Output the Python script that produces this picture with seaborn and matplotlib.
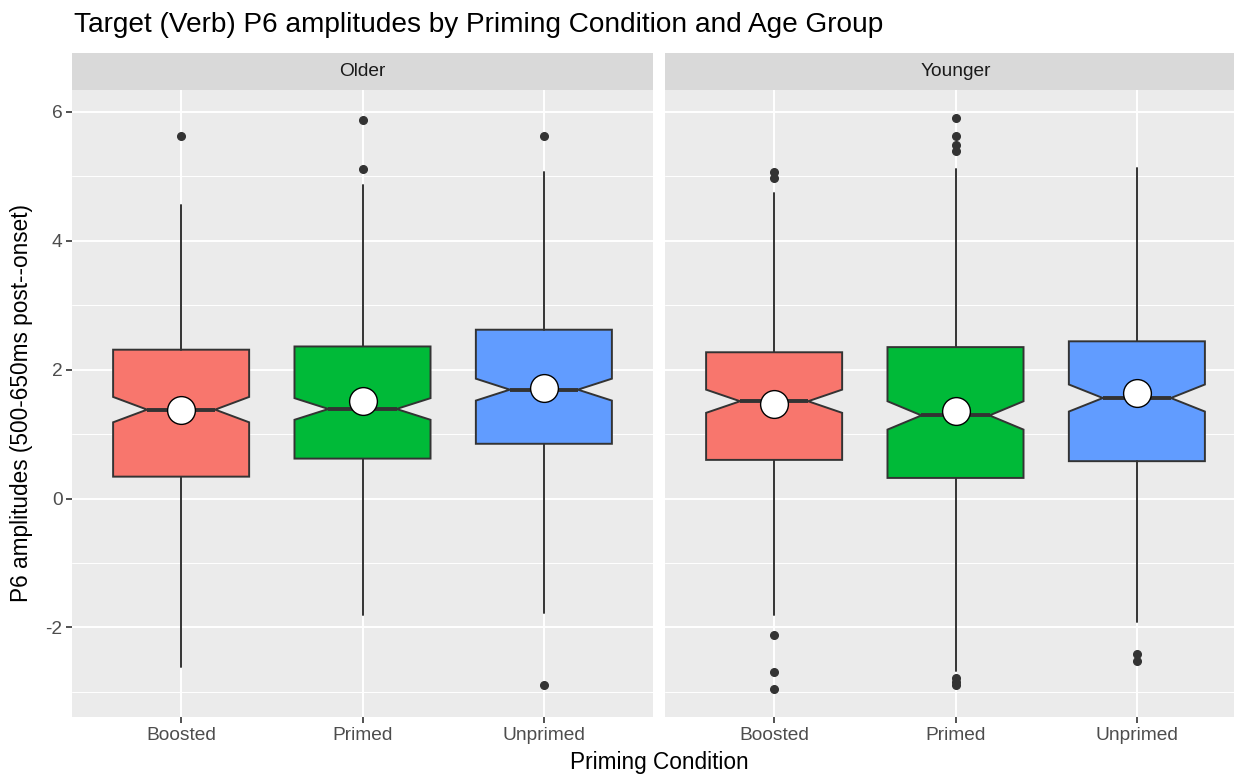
import matplotlib
matplotlib.use("Agg")
import matplotlib.pyplot as plt
from matplotlib.patches import Rectangle
from matplotlib.ticker import FixedLocator
import numpy as np
import pandas as pd
import seaborn as sns

# Box summaries for the P6 window, one entry per (age group, priming condition)
groups = ["Older", "Older", "Older", "Younger", "Younger", "Younger"]
conditions = ["Boosted", "Primed", "Unprimed", "Boosted", "Primed", "Unprimed"]
lower_hinge = [0.34, 0.62, 0.85, 0.60, 0.32, 0.58]
medians = [1.38, 1.39, 1.69, 1.51, 1.29, 1.56]
upper_hinge = [2.31, 2.36, 2.62, 2.27, 2.35, 2.44]
whisker_low = [-2.62, -1.80, -1.77, -1.81, -2.68, -1.92]
whisker_high = [4.56, 4.86, 5.06, 4.74, 5.11, 5.13]
notch_halfwidth = [0.197, 0.168, 0.170, 0.180, 0.220, 0.210]
means = [1.38, 1.52, 1.71, 1.46, 1.36, 1.64]
outliers = [
    [5.63],
    [5.88, 5.11],
    [5.62, -2.90],
    [5.07, 4.97, -2.11, -2.69, -2.95],
    [5.90, 5.63, 5.48, 5.40, -2.78, -2.84, -2.90],
    [-2.42, -2.52],
]

condition_order = ["Boosted", "Primed", "Unprimed"]
group_order = ["Older", "Younger"]
palette = {"Boosted": "#F8766D", "Primed": "#00BA38", "Unprimed": "#619CFF"}

summary = pd.DataFrame({
    "group": groups,
    "condition": conditions,
    "q1": lower_hinge,
    "med": medians,
    "q3": upper_hinge,
    "whislo": whisker_low,
    "whishi": whisker_high,
    "notch": notch_halfwidth,
    "mean": means,
    "fliers": outliers,
})

sns.set_theme(style="darkgrid")
plt.rcParams["font.family"] = ["Liberation Sans", "DejaVu Sans"]
plt.rcParams["axes.unicode_minus"] = False

DARK = "#333333"
PANEL = "#EBEBEB"


def draw_boxes(data, **kws):
    ax = plt.gca()
    data = data.set_index("condition").loc[condition_order].reset_index()
    stats = []
    for _, r in data.iterrows():
        stats.append(dict(
            med=r["med"], q1=r["q1"], q3=r["q3"],
            whislo=r["whislo"], whishi=r["whishi"],
            cilo=r["med"] - r["notch"], cihi=r["med"] + r["notch"],
            fliers=np.array(r["fliers"]), mean=r["mean"],
        ))
    pos = np.arange(len(condition_order))
    bp = ax.bxp(
        stats, positions=pos, widths=0.75, shownotches=True,
        showcaps=False, showmeans=False, patch_artist=True,
        boxprops=dict(edgecolor=DARK, linewidth=1.4),
        medianprops=dict(color=DARK, linewidth=2.8, solid_capstyle="butt"),
        whiskerprops=dict(color=DARK, linewidth=1.4),
        flierprops=dict(marker="o", markerfacecolor=DARK, markeredgecolor=DARK,
                        markersize=5.5, linestyle="none"),
        zorder=3,
    )
    for patch, cond in zip(bp["boxes"], condition_order):
        patch.set_facecolor(palette[cond])
    sns.scatterplot(x=pos, y=data["mean"].to_numpy(), ax=ax, s=400,
                    color="white", edgecolor="black", linewidth=1.0,
                    zorder=5, legend=False)


g = sns.FacetGrid(summary, col="group", col_order=group_order, sharey=True,
                  sharex=True, height=6, aspect=1.0, despine=False)
g.map_dataframe(draw_boxes)

fig = g.figure
fig.set_size_inches(12.34, 7.74)
W, H = 1234.0, 774.0
panel_w = 580.4
fig.subplots_adjust(left=72.3 / W, right=(665.3 + panel_w) / W,
                    top=1 - 90 / H, bottom=1 - 717 / H,
                    wspace=12.6 / panel_w)

for i, (ax, name) in enumerate(zip(g.axes.flat, group_order)):
    ax.set_facecolor(PANEL)
    ax.set_xlim(-0.6, 2.6)
    ax.set_ylim(-3.39, 6.34)
    ax.set_title("")
    ax.set_xlabel("")
    ax.set_ylabel("")
    for s in ax.spines.values():
        s.set_visible(False)
    ax.set_xticks(range(3))
    ax.set_xticklabels(condition_order)
    ax.yaxis.set_major_locator(FixedLocator([-2, 0, 2, 4, 6]))
    ax.yaxis.set_minor_locator(FixedLocator([-3, -1, 1, 3, 5]))
    ax.grid(which="major", color="white", linewidth=1.4)
    ax.grid(which="minor", axis="y", color="white", linewidth=0.7)
    ax.grid(which="minor", axis="x", visible=False)
    ax.set_axisbelow(True)
    ax.tick_params(axis="both", which="major", length=4, width=1.2,
                   color=DARK, labelcolor="#4D4D4D", labelsize=13.8, pad=3,
                   bottom=True, left=(i == 0))
    ax.tick_params(axis="y", which="minor", length=0)
    if i > 0:
        ax.tick_params(axis="y", labelleft=False)
    # facet strip
    strip_h = 36.7 / (717 - 90)
    ax.add_patch(Rectangle((0, 1), 1, strip_h, transform=ax.transAxes,
                           facecolor="#D9D9D9", edgecolor="none",
                           clip_on=False, zorder=1))
    ax.text(0.5, 1 + strip_h / 2, name, transform=ax.transAxes,
            ha="center", va="center", fontsize=13.8, color="#1A1A1A")

fig.text(74 / W, 1 - 25 / H, "Target (Verb) P6 amplitudes by Priming Condition and Age Group",
         ha="left", va="center", fontsize=20.2, color="black")
fig.text(659 / W, 1 - 762 / H, "Priming Condition", ha="center", va="center",
         fontsize=16.3, color="black")
fig.text(22 / W, 1 - 403 / H, "P6 amplitudes (500-650ms post--onset)",
         ha="center", va="center", rotation=90, fontsize=16.3, color="black")

fig.savefig("out.png", dpi=100, facecolor="white")
